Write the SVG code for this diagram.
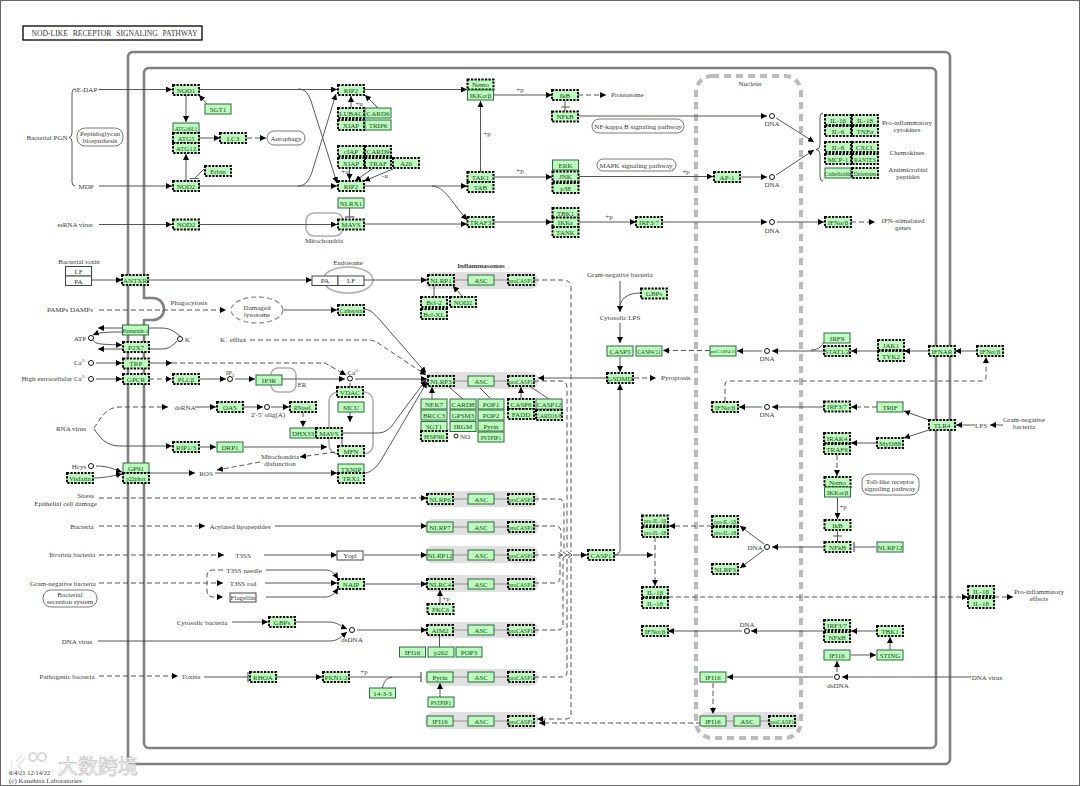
<svg xmlns="http://www.w3.org/2000/svg" width="1080" height="786" viewBox="0 0 1080 786">
<style>
text{font-family:"Liberation Serif","Times New Roman",serif;font-size:7px;fill:#3a3a3a;text-anchor:middle}
.n text{fill:#124a20;font-size:7px}
.n text.m{font-size:5.6px}
.n rect{fill:#bdfcbd;width:26px;height:10px}
.d rect{stroke:#000;stroke-width:2;stroke-dasharray:2.2 1.3}
.s rect{stroke:#2c6a42;stroke-width:1}
.w rect{fill:#fff;stroke:#444;stroke-width:1}
.w text{fill:#333}
.r{text-anchor:end}
.st{text-anchor:start}
.g{fill:#e0e0e0}
.frame{fill:none;stroke:#808080;stroke-width:2.6}
.org{fill:none;stroke:#b0b0b0;stroke-width:1.6}
.pw{fill:#fff;stroke:#555;stroke-width:.8}
#c path{fill:none;stroke:#444;stroke-width:.9;marker-end:url(#a)}
#c path.x{marker-end:none}
#c path.t{marker-end:url(#t)}
#c path.k{stroke-dasharray:5 3}
#c path.b{marker-end:none;stroke:#888}
#c circle,.o{fill:#fff;stroke:#111;stroke-width:1}
</style>
<defs>
<marker id="a" markerUnits="userSpaceOnUse" markerWidth="7" markerHeight="6" refX="6" refY="3" orient="auto"><path d="M0,0L6,3L0,6z" fill="#000"/></marker>
<marker id="t" markerUnits="userSpaceOnUse" markerWidth="2" markerHeight="10" refX="1" refY="5" orient="auto"><path d="M1,0V10" stroke="#333" stroke-width="1" fill="none"/></marker>
</defs>
<rect x="0.5" y="0.5" width="1079" height="785" fill="#fff" stroke="#666"/>
<g id="title"><rect x="23" y="26" width="179" height="14" fill="#fff" stroke="#000" stroke-width="1.3"/><text x="114.500" y="35.500" style="font-size:7.600px;word-spacing:3px">NOD-LIKE RECEPTOR SIGNALING PATHWAY</text></g>
<g id="frames">
<rect class="frame" x="128" y="52" width="822" height="712" rx="5"/>
<rect class="frame" x="144" y="68" width="792" height="680" rx="5"/>
<rect x="142" y="299" width="5" height="20" fill="#fff"/>
<path class="frame" d="M144,298H153A11,11 0 0 1 153,320H144"/>
<rect x="696" y="76" width="105" height="662" rx="16" fill="none" stroke="#bbb" stroke-width="4" stroke-dasharray="7 5"/>
<rect class="org" x="306" y="213" width="37" height="23" rx="8"/>
<ellipse class="org" cx="348" cy="280" rx="25" ry="13"/>
<ellipse cx="257" cy="310" rx="26" ry="13" fill="none" stroke="#999" stroke-width="1.4" stroke-dasharray="5 3"/>
<rect class="org" x="271" y="368" width="25" height="24" rx="7"/>
<rect class="org" x="329" y="392" width="44" height="62" rx="9"/>
</g>
<g id="complexes">
<rect class="g" x="425" y="272" width="113" height="17" rx="7"/>
<rect class="g" x="425" y="372" width="113" height="17" rx="7"/>
<rect class="g" x="425" y="491" width="113" height="16" rx="7"/>
<rect class="g" x="425" y="519" width="113" height="16" rx="7"/>
<rect class="g" x="425" y="546" width="113" height="17" rx="7"/>
<rect class="g" x="425" y="575" width="113" height="17" rx="7"/>
<rect class="g" x="425" y="622" width="113" height="16" rx="7"/>
<rect class="g" x="425" y="669" width="113" height="17" rx="7"/>
<rect class="g" x="425" y="712" width="113" height="17" rx="7"/>
<rect class="g" x="700" y="712" width="99" height="17" rx="7"/>
</g>
<g id="c">
<path d="M99,89.5H172"/><path d="M199,89.5H337"/>
<path d="M298,89C306,89 308,94 311,101L337,183"/>
<path d="M298,186C306,186 309,180 312,172L336,94"/>
<path d="M99,186H172"/><path d="M199,186H337"/>
<path d="M99,224.5H172"/><path d="M199,224.5H337"/>
<path d="M186,95V122"/><path d="M186,181V154"/>
<path d="M207,104L199,95"/>
<path class="x" d="M204,169L195,178"/><path class="x" d="M190,178.5H199"/>
<path d="M199,138H220"/><path class="k" d="M247,138H266"/>
<path class="x" d="M75,89Q72,89 72,93V133Q72,137 69,137.5Q72,138 72,142V182Q72,186 75,186"/>
<path class="x" d="M823,113Q820,113 820,117V145Q820,149 816,149.5Q820,150 820,154V177Q820,181 823,181"/>
<path d="M351,108V96"/><path d="M378,108L365,95"/>
<path d="M349.5,168V180"/><path d="M372,169L355,181"/><path d="M393,169L364,181"/>
<path class="t" d="M349.5,208V217"/>
<path d="M364,89.5H467"/><path d="M480.5,172V101"/>
<path d="M364,186H467"/><path d="M432,186C445,187 450,200 467,220"/>
<path d="M364,224H467"/>
<path d="M494,95H552"/><path class="k" d="M578,95H606"/>
<path class="x" d="M565,100V111"/><path class="x" d="M561,107H570"/>
<path d="M579,116H767"/>
<path d="M494,177H552"/><path d="M579,176.5H713"/><path d="M741,177H767"/>
<path d="M494,222H552"/><path d="M579,222H636"/><path d="M662,222H767"/>
<path d="M777,222H824"/><path class="k" d="M851,222H875"/>
<path d="M776,118L814,142"/><path d="M776,175L814,150"/>
<path d="M92,280H122"/><path d="M149,280H312"/><path d="M364,280H427"/>
<path class="k" d="M99,310H226"/>
<path d="M284,310H337"/>
<path d="M364,309C372,310 375,315 380,320L426,373"/>
<path class="k" d="M250,340H368C375,340 378,343 384,347L426,375"/>
<path d="M149,363H172"/><path class="k" d="M172,363H325L346,375"/>
<path d="M355,379H427"/><path d="M282,379H345"/>
<path d="M96,363H122"/><path d="M96,379H122"/>
<path class="k" d="M149,379H172"/><path d="M200,379H226"/><path d="M235,379H255"/>
<path d="M180,336C172,330 170,328 160,328H98"/>
<path d="M122,332C110,332 100,332 93,335"/>
<path d="M93,340C96,345 102,344 122,345"/>
<path d="M177,341C170,348 168,349 160,349H98"/>
<path class="k" d="M94,428C100,420 105,407 120,407H168"/>
<path d="M94,429C100,437 105,446 120,446H172"/>
<path d="M195,407H216"/>
<path d="M244,407H263"/><path d="M271,407H289"/>
<path class="k" d="M303,412V427"/>
<path d="M200,447H216"/><path d="M244,447H327"/>
<path d="M342,433H378C386,433 392,427 396,420L426,380"/>
<path d="M350,412V422"/>
<path class="x" d="M342,438V446H345"/><path class="x" d="M350,383V387"/>
<path class="k" d="M335,452L300,457"/><path class="k" d="M260,462L217,470"/>
<path d="M96,466C110,466 115,470 122,472"/><path d="M94,478C105,478 112,476 122,474"/>
<path d="M149,473H195"/><path d="M215,473H337"/>
<path d="M365,473C372,472 375,468 380,462L427,382"/>
<path class="k" d="M99,498H427"/>
<path class="k" d="M99,526H205"/><path d="M275,526H427"/>
<path class="k" d="M99,555H224"/><path d="M264,555H337"/><path d="M364,555H427"/>
<path class="k" d="M99,583H223"/><path class="k" d="M223,570H213Q207,570 207,576V590Q207,597 213,597H223"/>
<path d="M266,570H325C332,570 335,574 338,579"/><path d="M265,583H337"/><path d="M266,597H325C332,597 335,593 338,588"/>
<path d="M364,584H427"/>
<path d="M232,622H268"/><path d="M295,622H328C338,622 340,626 347,629"/>
<path d="M98,641H330C338,641 342,636 347,632"/><path d="M357,630H427"/>
<path class="k" d="M99,676H178"/>
<path class="t" d="M204,677H248"/><path d="M276,677H322"/><path class="t" d="M350,677H421"/>
<path class="x" d="M382,689C384,682 386,678 392,677"/>
<path d="M440,604V590"/><path class="x" d="M439.5,636V647"/><path d="M440,697V683"/>
<path class="x" d="M434,297V285"/><path d="M463,297L453,286"/>
<path d="M432,399V387"/><path class="x" d="M463,399L449,387"/><path class="x" d="M490,398L480,388"/>
<path d="M521,399V387"/><path class="x" d="M549,399L531,387"/>
<path class="b" d="M454,280H468M494,280H508M454,381H468M494,381H508M454,499H468M494,499H508M453,527H468M494,527H508M453,555H468M494,555H508M453,584H468M494,584H508M453,630H468M494,630H508M453,677H468M494,677H508M453,721H468M494,721H508M726,721H734M760,721H769"/>
<path class="k x" d="M534,280H563Q571,280 571,288V552"/>
<path class="k x" d="M534,381H561Q567,381 567,388V552"/>
<path class="k x" d="M534,499H558Q564,499 564,505V552"/>
<path class="k x" d="M534,526H555Q561,526 561,532V552"/>
<path class="k x" d="M534,555H570"/>
<path class="k x" d="M534,583H555Q560,583 560,578V558"/>
<path class="k x" d="M534,630H558Q563,630 563,625V558"/>
<path class="k x" d="M534,677H562Q567,677 567,672V558"/>
<path class="k" d="M571,558V714Q571,719 566,719H537"/>
<path class="x" d="M558,552L562,555L558,558M563,552L567,555L563,558M568,552L572,555L568,558"/>
<path d="M573,555H587"/>
<path d="M614,555C618,555 620,552 620,550V384"/>
<path d="M614,555H653"/><path class="k" d="M655,537V586"/>
<path class="k" d="M712,526H669"/>
<path class="k" d="M668,597H968"/><path class="k" d="M994,597H1013"/>
<path d="M824,631H751"/><path d="M742,631H668"/>
<path d="M877,631H851"/><path d="M890,650V637"/><path d="M851,655H876"/>
<path d="M837,672V661"/><path d="M971,677H842"/><path d="M833,677H727"/>
<path class="k" d="M713,683V714"/><path class="k" d="M701,723H539"/>
<path d="M620,281V312"/><path class="x" d="M640,293C630,293 622,297 620,305"/>
<path d="M620,323V343"/><path d="M620,357V372"/>
<path class="k" d="M634,378H656"/><path d="M606,378H538"/>
<path class="k" d="M710,350.5H663"/>
<path d="M823,351H772"/><path d="M762,351H737"/>
<path class="x" d="M811,350C820,350 822,345 824,342"/>
<path d="M878,351H851"/><path d="M928,351H904"/><path d="M976,351H955"/>
<path class="k" d="M725,402V385Q725,381 729,381H982Q986,381 986,377V357"/>
<path d="M824,407H772"/><path d="M762,407H739"/>
<path class="k" d="M877,407H851"/>
<path d="M929,420L904,411"/><path d="M929,430L904,438"/>
<path d="M876,443H851"/>
<path d="M975,425H956"/><path d="M1003,425H990"/>
<path class="k" d="M837,455V476"/><path d="M837.5,498V519"/>
<path class="x" d="M837.5,531V542"/><path class="x" d="M833,536H842"/>
<path class="t" d="M876,547H854"/>
<path d="M824,547H772"/><path d="M764,544L740,526"/><path d="M764,550L740,568"/>
<circle cx="772" cy="116" r="2.5"/><circle cx="772" cy="177" r="2.5"/><circle cx="772" cy="222" r="2.5"/>
<circle cx="91" cy="338" r="2.5"/><circle cx="180" cy="339" r="2.5"/><circle cx="91" cy="363" r="2.5"/><circle cx="91" cy="379" r="2.5"/><circle cx="350" cy="378.500" r="2.5"/><circle cx="230" cy="379" r="2.5"/><circle cx="267" cy="407" r="2.5"/><circle cx="91" cy="466" r="2.5"/><circle cx="352" cy="630" r="2.5"/><circle cx="456" cy="436" r="2"/>
<circle cx="767" cy="351" r="2.5"/><circle cx="767" cy="407" r="2.5"/><circle cx="767" cy="547" r="2.5"/><circle cx="747" cy="631" r="2.5"/><circle cx="837" cy="677" r="2.5"/>
</g>
<g id="white-boxes">
<g class="n w"><rect x="65.500" y="266.500" style="height:9.500px"/><text x="78.500" y="273.500">LF</text></g>
<g class="n w"><rect x="65.500" y="276" style="height:9.500px"/><text x="78.500" y="283.500">PA</text></g>
<g class="n w"><rect x="312" y="276" style="height:9.500px"/><text x="325" y="283">PA</text></g>
<g class="n w"><rect x="338" y="276" style="height:9.500px"/><text x="351" y="283">LF</text></g>
<g class="n w"><rect x="337" y="551" style="height:9px"/><text x="350" y="558">Yopl</text></g>
<g class="n w"><rect x="230" y="593" style="height:9px"/><text x="243" y="600">Flagellin</text></g>
</g>
<g id="n-top">
<g id="NOD1" class="n d"><rect x="173" y="85"/><text x="186" y="92.500">NOD1</text></g>
<g id="SGT1a" class="n s"><rect x="205" y="104"/><text x="218" y="112">SGT1</text></g>
<g id="ATG16L1" class="n s"><rect x="173" y="123"/><text class="m" x="186" y="130.500">ATG16L1</text></g>
<g id="ATG5" class="n d"><rect x="173" y="133"/><text x="186" y="140.500">ATG5</text></g>
<g id="ATG12" class="n d"><rect x="173" y="143"/><text x="186" y="150.500">ATG12</text></g>
<g id="LC3" class="n d"><rect x="220" y="133"/><text x="233" y="140.500">LC3</text></g>
<g id="NOD2" class="n d"><rect x="173" y="181"/><text x="186" y="188.500">NOD2</text></g>
<g id="Erbin" class="n d"><rect x="205" y="166"/><text x="218" y="173.500">Erbin</text></g>
<g id="NOD2b" class="n d"><rect x="173" y="219.500"/><text x="186" y="227">NOD2</text></g>
<g id="RIP2a" class="n d"><rect x="338" y="85"/><text x="351" y="92.500">RIP2</text></g>
<g id="LUBAC" class="n d"><rect x="338" y="108"/><text x="351" y="115.500">LUBAC</text></g>
<g id="CARD6" class="n s"><rect x="365" y="108"/><text x="378" y="115.500">CARD6</text></g>
<g id="XIAPa" class="n d"><rect x="338" y="120"/><text x="351" y="127.500">XIAP</text></g>
<g id="TRIP6" class="n s"><rect x="365" y="120"/><text x="378" y="127.500">TRIP6</text></g>
<g id="cIAP" class="n d"><rect x="338" y="146"/><text x="351" y="153.500">cIAP</text></g>
<g id="CARD9" class="n d"><rect x="365" y="146"/><text x="378" y="153.500">CARD9</text></g>
<g id="XIAPb" class="n d"><rect x="338" y="158"/><text x="351" y="165.500">XIAP</text></g>
<g id="TRAF" class="n d"><rect x="365" y="158"/><text x="378" y="165.500">TRAF</text></g>
<g id="A20" class="n d"><rect x="393" y="158"/><text x="406" y="165.500">A20</text></g>
<g id="RIP2b" class="n d"><rect x="338" y="181"/><text x="351" y="188.500">RIP2</text></g>
<g id="NLRX1" class="n s"><rect x="338" y="198"/><text x="351" y="205.500">NLRX1</text></g>
<g id="MAVSa" class="n d"><rect x="338" y="219.500"/><text x="351" y="227">MAVS</text></g>
<g id="Nemoa" class="n d"><rect x="467.500" y="79.500"/><text x="480.500" y="87">Nemo</text></g>
<g id="IKKa" class="n s"><rect x="467.500" y="90"/><text x="480.500" y="97.500">IKKα/β</text></g>
<g id="IkBa" class="n d"><rect x="552" y="90"/><text x="565" y="97.500">IkB</text></g>
<g id="NFkBa" class="n d"><rect x="552" y="111.500"/><text x="565" y="119">NFkB</text></g>
<g id="TAK1" class="n d"><rect x="467.500" y="172"/><text x="480.500" y="179.500">TAK1</text></g>
<g id="TAB" class="n d"><rect x="467.500" y="182"/><text x="480.500" y="189.500">TAB</text></g>
<g id="ERK" class="n s"><rect x="552.500" y="160"/><text x="565.500" y="167.500">ERK</text></g>
<g id="JNK" class="n d"><rect x="552.500" y="171.500"/><text x="565.500" y="179">JNK</text></g>
<g id="p38" class="n d"><rect x="552.500" y="183"/><text x="565.500" y="190.500">p38</text></g>
<g id="TRAF3" class="n d"><rect x="467.500" y="217"/><text x="480.500" y="224.500">TRAF3</text></g>
<g id="TBK1a" class="n d"><rect x="552.500" y="208"/><text x="565.500" y="215.500">TBK1</text></g>
<g id="IKKe" class="n d"><rect x="552.500" y="217.500"/><text x="565.500" y="225">IKKε</text></g>
<g id="TANK" class="n d"><rect x="552.500" y="227"/><text x="565.500" y="234.500">TANK</text></g>
<g id="IRF37a" class="n d"><rect x="636" y="217"/><text x="649" y="224.500">IRF3/7</text></g>
<g id="AP1" class="n d"><rect x="714" y="172"/><text x="727" y="179.500">AP-1</text></g>
<g id="IL1ba" class="n d"><rect x="825" y="115"/><text x="838" y="122.500">IL-1β</text></g>
<g id="IL18a" class="n d"><rect x="852" y="115"/><text x="865" y="122.500">IL-18</text></g>
<g id="IL6" class="n d"><rect x="825" y="126"/><text x="838" y="133.500">IL-6</text></g>
<g id="TNFa" class="n d"><rect x="852" y="126"/><text x="865" y="133.500">TNFα</text></g>
<g id="IL8" class="n d"><rect x="825" y="142"/><text x="838" y="149.500">IL-8</text></g>
<g id="CXCL" class="n d"><rect x="852" y="142"/><text x="865" y="149.500">CXCL</text></g>
<g id="MCP1" class="n d"><rect x="825" y="154"/><text x="838" y="161.500">MCP-1</text></g>
<g id="RANTES" class="n d"><rect x="852" y="154"/><text class="m" x="865" y="161.500">RANTES</text></g>
<g id="Cath" class="n s"><rect x="825" y="168"/><text class="m" x="838" y="175.500">Cathelicidin</text></g>
<g id="Def" class="n d"><rect x="852" y="168"/><text class="m" x="865" y="175.500">Defensins</text></g>
<g id="IFNa" class="n d"><rect x="825" y="217"/><text x="838" y="224.500">IFNα/β</text></g>
</g>
<g id="n-mid">
<g id="ANTXR" class="n d"><rect x="122" y="275"/><text x="135" y="282.500">ANTXR</text></g>
<g id="Pannexin" class="n s"><rect x="122.500" y="325"/><text class="m" x="135.500" y="332.500">Pannexin-1</text></g>
<g id="P2X7" class="n d"><rect x="123" y="342"/><text x="136" y="349.500">P2X7</text></g>
<g id="TRP" class="n d"><rect x="123" y="358.500"/><text x="136" y="366">TRP</text></g>
<g id="GPCR" class="n d"><rect x="123" y="374"/><text x="136" y="381.500">GPCR</text></g>
<g id="PLCb" class="n d"><rect x="173" y="374"/><text x="186" y="381.500">PLCβ</text></g>
<g id="IP3R" class="n s"><rect x="256" y="375"/><text x="269" y="382.500">IP3R</text></g>
<g id="VDAC" class="n d"><rect x="337" y="387"/><text x="350" y="394.500">VDAC</text></g>
<g id="MCU" class="n s"><rect x="338" y="402"/><text x="351" y="409.500">MCU</text></g>
<g id="OAS" class="n d"><rect x="217" y="402"/><text x="230" y="409.500">OAS</text></g>
<g id="RNaseL" class="n d"><rect x="290" y="402"/><text class="m" x="303" y="409.500">RNaseL</text></g>
<g id="DHX33" class="n s"><rect x="290" y="428"/><text x="303" y="435.500">DHX33</text></g>
<g id="MAVSb" class="n d"><rect x="316" y="428"/><text x="329" y="435.500">MAVS</text></g>
<g id="RIP13" class="n d"><rect x="173" y="442"/><text x="186" y="449.500">RIP1/3</text></g>
<g id="DRP1" class="n s"><rect x="217" y="442"/><text x="230" y="449.500">DRP1</text></g>
<g id="MFN" class="n d"><rect x="338" y="446"/><text x="351" y="453.500">MFN</text></g>
<g id="GP91" class="n s"><rect x="123" y="463"/><text x="136" y="470.500">GP91</text></g>
<g id="p22" class="n d"><rect x="123" y="473"/><text class="m" x="136" y="480.500">p22phox</text></g>
<g id="Visfatin" class="n d"><rect x="67" y="473"/><text x="80" y="480.500">Visfatin</text></g>
<g id="TXNIP" class="n s"><rect x="338" y="464"/><text x="351" y="471.500">TXNIP</text></g>
<g id="TRX1" class="n d"><rect x="338" y="473"/><text x="351" y="480.500">TRX1</text></g>
<g id="Cathepsin" class="n d"><rect x="338" y="305"/><text class="m" x="351" y="312.500">Cathepsin</text></g>
<g id="NLRP1" class="n d"><rect x="428" y="275"/><text x="441" y="282.500">NLRP1</text></g>
<g id="ASC1" class="n s"><rect x="468" y="275"/><text x="481" y="282.500">ASC</text></g>
<g id="pro1" class="n d"><rect x="508" y="275"/><text class="m" x="521" y="282.500">proCASP1</text></g>
<g id="Bcl2" class="n d"><rect x="421" y="297"/><text x="434" y="304.500">Bcl-2</text></g>
<g id="NOD2c" class="n d"><rect x="450" y="297"/><text x="463" y="304.500">NOD2</text></g>
<g id="BclXL" class="n d"><rect x="421" y="309"/><text x="434" y="316.500">Bcl-XL</text></g>
<g id="NLRP3" class="n d"><rect x="428" y="376"/><text x="441" y="383.500">NLRP3</text></g>
<g id="ASC2" class="n s"><rect x="468" y="376"/><text x="481" y="383.500">ASC</text></g>
<g id="pro2" class="n d"><rect x="508" y="376"/><text class="m" x="521" y="383.500">proCASP1</text></g>
<g id="NEK7" class="n s"><rect x="421" y="399"/><text x="434" y="406.500">NEK7</text></g>
<g id="CARD8" class="n s"><rect x="450" y="399"/><text x="463" y="406.500">CARD8</text></g>
<g id="BRCC3" class="n s"><rect x="421" y="410"/><text x="434" y="417.500">BRCC3</text></g>
<g id="GPSM3" class="n s"><rect x="450" y="410"/><text x="463" y="417.500">GPSM3</text></g>
<g id="SGT1b" class="n s"><rect x="421" y="421.500"/><text x="434" y="429">SGT1</text></g>
<g id="IRGM" class="n s"><rect x="450" y="421.500"/><text x="463" y="429">IRGM</text></g>
<g id="HSP90" class="n d"><rect x="421" y="431"/><text x="434" y="438.500">HSP90</text></g>
<g id="POP1" class="n s"><rect x="478" y="399"/><text x="491" y="406.500">POP1</text></g>
<g id="POP2" class="n s"><rect x="478" y="410"/><text x="491" y="417.500">POP2</text></g>
<g id="Pyrina" class="n s"><rect x="478" y="421"/><text x="491" y="428.500">Pyrin</text></g>
<g id="PSTa" class="n s"><rect x="478" y="432"/><text class="m" x="491" y="439.500">PSTPIP1</text></g>
<g id="CASP8" class="n d"><rect x="508" y="399"/><text x="521" y="406.500">CASP8</text></g>
<g id="CASP12" class="n s"><rect x="536" y="399"/><text x="549" y="406.500">CASP12</text></g>
<g id="FADD" class="n d"><rect x="508" y="409"/><text x="521" y="416.500">FADD</text></g>
<g id="CARD16" class="n d"><rect x="536" y="410"/><text class="m" x="549" y="417.500">CARD16/8</text></g>
<g id="GBPa" class="n d"><rect x="641" y="288.500"/><text x="654" y="296">GBPs</text></g>
<g id="CASP5" class="n s"><rect x="607" y="346"/><text x="620" y="353.500">CASP5</text></g>
<g id="CASP411" class="n s"><rect x="636" y="346"/><text class="m" x="649" y="353.500">CASP4/11</text></g>
<g id="GSDMD" class="n d"><rect x="607" y="373"/><text x="620" y="380.500">GSDMD</text></g>
<g id="proC411" class="n s"><rect x="710" y="346"/><text class="m" x="723" y="353" style="font-size:4.600px">proCASP4/11</text></g>
<g id="IRF9" class="n s"><rect x="824" y="333"/><text x="837" y="340.500">IRF9</text></g>
<g id="STAT" class="n d"><rect x="824" y="346"/><text x="837" y="353.500">STAT1/2</text></g>
<g id="JAK1" class="n d"><rect x="878" y="340"/><text x="891" y="347.500">JAK1</text></g>
<g id="TYK2" class="n d"><rect x="878" y="351"/><text x="891" y="358.500">TYK2</text></g>
<g id="IFNAR" class="n d"><rect x="929" y="346"/><text x="942" y="353.500">IFNAR</text></g>
<g id="IFNb" class="n d"><rect x="977" y="346"/><text x="990" y="353.500">IFNα/β</text></g>
<g id="IFNc" class="n d"><rect x="712" y="402"/><text x="725" y="409.500">IFNα/β</text></g>
<g id="IRF37b" class="n d"><rect x="824" y="401.500"/><text x="837" y="409">IRF3/7</text></g>
<g id="TRIF" class="n s"><rect x="877" y="402"/><text x="890" y="409.500">TRIF</text></g>
<g id="TLR4" class="n d"><rect x="929" y="420"/><text x="942" y="427.500">TLR4</text></g>
<g id="MyD88" class="n d"><rect x="877" y="438"/><text x="890" y="445.500">MyD88</text></g>
<g id="IRAK4" class="n d"><rect x="824" y="433"/><text x="837" y="440.500">IRAK4</text></g>
<g id="TRAF6" class="n d"><rect x="824" y="444"/><text x="837" y="451.500">TRAF6</text></g>
<g id="Nemob" class="n d"><rect x="824.500" y="477"/><text x="837.500" y="484.500">Nemo</text></g>
<g id="IKKb" class="n s"><rect x="824.500" y="487"/><text x="837.500" y="494.500">IKKα/β</text></g>
<g id="IkBb" class="n d"><rect x="824.500" y="520"/><text x="837.500" y="527.500">IkB</text></g>
<g id="NFkBb" class="n d"><rect x="824.500" y="542"/><text x="837.500" y="549.500">NFkB</text></g>
<g id="NLRP12b" class="n s"><rect x="877" y="542"/><text x="890" y="549.500">NLRP12</text></g>
<g id="proIL1a" class="n d"><rect x="712" y="516"/><text class="m" x="725" y="523.500">pro-IL-1β</text></g>
<g id="proIL18a" class="n d"><rect x="712" y="527"/><text class="m" x="725" y="534.500">pro-IL-18</text></g>
<g id="NLRP3b" class="n d"><rect x="712" y="564"/><text x="725" y="571.500">NLRP3</text></g>
</g>
<g id="n-low">
<g id="NLRP6" class="n d"><rect x="427" y="494"/><text x="440" y="501.500">NLRP6</text></g>
<g id="ASC3" class="n s"><rect x="468" y="494"/><text x="481" y="501.500">ASC</text></g>
<g id="pro3" class="n d"><rect x="508" y="494"/><text class="m" x="521" y="501.500">proCASP1</text></g>
<g id="NLRP7" class="n s"><rect x="427" y="522"/><text x="440" y="529.500">NLRP7</text></g>
<g id="ASC4" class="n s"><rect x="468" y="522"/><text x="481" y="529.500">ASC</text></g>
<g id="pro4" class="n d"><rect x="508" y="522"/><text class="m" x="521" y="529.500">proCASP1</text></g>
<g id="NLRP12a" class="n s"><rect x="427" y="550"/><text x="440" y="557.500">NLRP12</text></g>
<g id="ASC5" class="n s"><rect x="468" y="550"/><text x="481" y="557.500">ASC</text></g>
<g id="pro5" class="n d"><rect x="508" y="550"/><text class="m" x="521" y="557.500">proCASP1</text></g>
<g id="NLRC4" class="n d"><rect x="427" y="579"/><text x="440" y="586.500">NLRC4</text></g>
<g id="ASC6" class="n s"><rect x="468" y="579"/><text x="481" y="586.500">ASC</text></g>
<g id="pro6" class="n d"><rect x="508" y="579"/><text class="m" x="521" y="586.500">proCASP1</text></g>
<g id="PKC" class="n d"><rect x="427.500" y="604"/><text x="440.500" y="611.500">PKCδ</text></g>
<g id="AIM2" class="n d"><rect x="427" y="625"/><text x="440" y="632.500">AIM2</text></g>
<g id="ASC7" class="n s"><rect x="468" y="625"/><text x="481" y="632.500">ASC</text></g>
<g id="pro7" class="n d"><rect x="508" y="625"/><text class="m" x="521" y="632.500">proCASP1</text></g>
<g id="IFI16a" class="n s"><rect x="399.500" y="647"/><text x="412.500" y="654.500">IFI16</text></g>
<g id="p202" class="n s"><rect x="428" y="647"/><text x="441" y="654.500">p202</text></g>
<g id="POP3" class="n s"><rect x="456" y="647"/><text x="469" y="654.500">POP3</text></g>
<g id="Pyrinb" class="n s"><rect x="427" y="672"/><text x="440" y="679.500">Pyrin</text></g>
<g id="ASC8" class="n s"><rect x="468" y="672"/><text x="481" y="679.500">ASC</text></g>
<g id="pro8" class="n d"><rect x="508" y="672"/><text class="m" x="521" y="679.500">proCASP1</text></g>
<g id="PSTb" class="n s"><rect x="428" y="697"/><text class="m" x="441" y="704.500">PSTPIP1</text></g>
<g id="IFI16b" class="n s"><rect x="427" y="716"/><text x="440" y="723.500">IFI16</text></g>
<g id="ASC9" class="n s"><rect x="468" y="716"/><text x="481" y="723.500">ASC</text></g>
<g id="pro9" class="n d"><rect x="508" y="716"/><text class="m" x="521" y="723.500">proCASP1</text></g>
<g id="CASP1" class="n d"><rect x="588" y="550"/><text x="601" y="557.500">CASP1</text></g>
<g id="proIL1b" class="n d"><rect x="642" y="515.500"/><text class="m" x="655" y="523">pro-IL-1β</text></g>
<g id="proIL18b" class="n d"><rect x="642" y="527"/><text class="m" x="655" y="534.500">pro-IL-18</text></g>
<g id="IL1bb" class="n d"><rect x="642" y="587"/><text x="655" y="594.500">IL-1β</text></g>
<g id="IL18b" class="n d"><rect x="642" y="598"/><text x="655" y="605.500">IL-18</text></g>
<g id="IFNd" class="n d"><rect x="642" y="626"/><text x="655" y="633.500">IFNα/β</text></g>
<g id="n1433" class="n s"><rect x="369.500" y="688"/><text x="382.500" y="695.500">14-3-3</text></g>
<g id="NAIP" class="n d"><rect x="338" y="579"/><text x="351" y="586.500">NAIP</text></g>
<g id="GBPb" class="n d"><rect x="269" y="617"/><text x="282" y="624.500">GBPs</text></g>
<g id="RHOA" class="n d"><rect x="250" y="672"/><text x="263" y="679.500">RHOA</text></g>
<g id="PKN" class="n d"><rect x="323" y="672"/><text x="336" y="679.500">PKN1/2</text></g>
<g id="IL1bc" class="n d"><rect x="968" y="586"/><text x="981" y="593.500">IL-1β</text></g>
<g id="IL18c" class="n d"><rect x="968" y="598"/><text x="981" y="605.500">IL-18</text></g>
<g id="IRF37c" class="n d"><rect x="824" y="620"/><text x="837" y="627.500">IRF3/7</text></g>
<g id="NFkBc" class="n d"><rect x="824" y="632"/><text x="837" y="639.500">NFkB</text></g>
<g id="TBK1b" class="n d"><rect x="877" y="626"/><text x="890" y="633.500">TBK1</text></g>
<g id="IFI16c" class="n s"><rect x="824" y="650"/><text x="837" y="657.500">IFI16</text></g>
<g id="STING" class="n s"><rect x="877" y="650"/><text x="890" y="657.500">STING</text></g>
<g id="IFI16d" class="n s"><rect x="700" y="672"/><text x="713" y="679.500">IFI16</text></g>
<g id="IFI16e" class="n s"><rect x="700" y="716"/><text x="713" y="723.500">IFI16</text></g>
<g id="ASC10" class="n s"><rect x="734" y="716"/><text x="747" y="723.500">ASC</text></g>
<g id="pro10" class="n d"><rect x="769" y="716"/><text class="m" x="782" y="723.500">proCASP1</text></g>
</g>
<g id="pathway-links">
<g id="l1"><rect class="pw" x="77" y="128" width="46" height="18" rx="8"/><text x="100" y="136">Peptidoglycan</text><text x="100" y="143">biosynthesis</text></g>
<g id="l2"><rect class="pw" x="267" y="131" width="38" height="14" rx="7"/><text x="286" y="140.500">Autophagy</text></g>
<g id="l3"><rect class="pw" x="592" y="119" width="92" height="14" rx="7"/><text x="638" y="128.500">NF-kappa B signaling pathway</text></g>
<g id="l4"><rect class="pw" x="597" y="159" width="79" height="12" rx="6"/><text x="636" y="167.500">MAPK signaling pathway</text></g>
<g id="l5"><rect class="pw" x="862" y="474" width="57" height="21" rx="8"/><text x="890" y="484">Toll-like receptor</text><text x="890" y="491">signaling pathway</text></g>
<g id="l6"><rect class="pw" x="43" y="590" width="54" height="17" rx="8"/><text x="70" y="597">Bacterial</text><text x="70" y="604">secretion system</text></g>
</g>
<g id="labels">
<text x="86" y="92">iE-DAP</text><text x="47" y="140">Bacterial PGN</text><text x="86" y="188.500">MDP</text><text x="75" y="227">ssRNA virus</text>
<text x="359" y="106">+u</text><text x="345" y="174">+u</text><text x="385" y="178">-u</text>
<text x="324" y="243">Mitochondria</text>
<text x="79" y="264">Bacterial toxin</text><text x="348" y="265">Endosome</text>
<text x="481" y="268" style="font-weight:bold">Inflammasomes</text>
<text x="520" y="92">+p</text><text x="487" y="136">+p</text><text x="520" y="173">+p</text><text x="686" y="174">+p</text><text x="609" y="219">+p</text>
<text class="st" x="611" y="97">Proteasome</text><text x="750" y="86">Nucleus</text>
<text x="772" y="126">DNA</text><text x="772" y="187">DNA</text><text x="772" y="233">DNA</text>
<text x="907" y="125">Pro-inflammatory</text><text x="907" y="132">cytokines</text><text x="907" y="155">Chemokines</text><text x="908" y="172">Antimicrobial</text><text x="908" y="179">peptides</text>
<text x="903" y="223">IFN-stimulated</text><text x="903" y="230">genes</text>
<text x="70" y="312">PAMPs DAMPs</text><text x="189" y="305">Phagocytosis</text>
<text x="257" y="310">Damaged</text><text x="257" y="317">lysosome</text>
<text x="80" y="341">ATP</text><text class="st" x="185" y="342">K<tspan dy="-3" font-size="5">+</tspan></text>
<text class="st" x="220" y="342">K<tspan dy="-3" font-size="5">+</tspan><tspan dy="3"> efflux</tspan></text>
<text class="r" x="87" y="365">Ca<tspan dy="-3" font-size="5">2+</tspan></text>
<text class="r" x="87" y="381">High extracellular Ca<tspan dy="-3" font-size="5">2+</tspan></text>
<text x="230" y="375">IP<tspan dy="2" font-size="5">3</tspan></text><text x="302" y="387">ER</text>
<text x="354" y="375">Ca<tspan dy="-3" font-size="5">2+</tspan></text>
<text x="71" y="431">RNA virus</text><text x="185" y="409.500">dsRNA</text><text x="268" y="417">2'-5' olig(A)</text>
<text class="st" x="460" y="438.500">NO</text>
<text x="280" y="459">Mitochondria</text><text x="280" y="466">disfunction</text><text x="206" y="475.500">ROS</text>
<text x="79" y="468.500">Hcys</text>
<text x="85.500" y="498">Stress</text><text x="65.500" y="506">Epithelial cell damage</text>
<text x="82" y="529">Bacteria</text><text x="240" y="528.500">Acylated lipopeptides</text>
<text x="72" y="557"><tspan font-style="italic">Yersinia</tspan> bacteria</text><text x="243" y="558">T3SS</text>
<text x="63" y="585.500">Gram-negative bacteria</text><text x="244" y="572.500">T3SS needle</text><text x="243" y="586">T3SS rod</text>
<text x="202" y="624.500">Cytosolic bacteria</text><text x="77" y="643.500">DNA virus</text><text x="352" y="641.500">dsDNA</text>
<text x="67" y="678.500">Pathogenic bacteria</text><text x="191" y="678.500">Toxins</text><text x="364" y="674">+p</text><text x="446" y="601">+p</text>
<text x="620" y="277">Gram-negative bacteria</text><text x="620" y="320">Cytosolic LPS</text><text class="st" x="661" y="380">Pyroptosis</text>
<text x="767" y="361">DNA</text><text x="767" y="417">DNA</text><text x="755" y="550">DNA</text><text x="747" y="627">DNA</text><text x="838" y="688">dsDNA</text>
<text x="981" y="427.500">LPS</text><text x="1024" y="422">Gram-negative</text><text x="1024" y="429">bacteria</text>
<text x="843" y="509">+p</text>
<text x="1039" y="594">Pro-inflammatory</text><text x="1039" y="601">effects</text><text x="987" y="679.500">DNA virus</text>
</g>
<g id="watermark">
<path d="M14,760V776M24,756L15,766L25,776" fill="none" stroke="#d8d8d8" stroke-width="5"/>
<path d="M14,760V776M24,756L15,766L25,776" fill="none" stroke="#fff" stroke-width="3.500"/>
<circle cx="33" cy="757" r="4" fill="none" stroke="#d8d8d8" stroke-width="2"/><circle cx="42" cy="757" r="4" fill="none" stroke="#d8d8d8" stroke-width="2"/>
<text x="98" y="773.500" style="font-family:'Noto Sans CJK SC',sans-serif;font-size:20px;fill:#fbfbfb;stroke:#c4c4c4;stroke-width:.7">大数跨境</text>
</g>
<g id="stamp"><text class="st" x="9" y="775" style="font-size:6.500px">6/4/21 12/14/22</text><text class="st" x="9" y="782.500">(c) Kanehisa Laboratories</text></g>
</svg>
